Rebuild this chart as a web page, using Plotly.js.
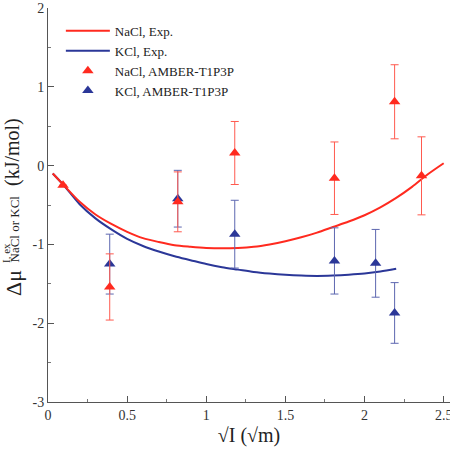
<!DOCTYPE html>
<html>
<head>
<meta charset="utf-8">
<script src="https://cdn.plot.ly/plotly-3.0.1.min.js"></script>
<style>
  html, body { margin: 0; padding: 0; background: #ffffff; }
  #chart { width: 450px; height: 452px; }
</style>
</head>
<body>
<div id="chart"></div>
<script>
// Experimental curves (sqrt of ionic strength vs excess chemical potential)
const naclExpX = [0.03, 0.1, 0.2, 0.3, 0.4, 0.5, 0.6, 0.7, 0.8, 0.9, 1.0, 1.1, 1.2, 1.3, 1.4, 1.5, 1.6, 1.7, 1.8, 1.9, 2.0, 2.1, 2.2, 2.3, 2.4, 2.5];
const naclExpY = [-0.10, -0.25, -0.46, -0.62, -0.74, -0.84, -0.92, -0.97, -1.01, -1.03, -1.045, -1.05, -1.045, -1.03, -1.00, -0.96, -0.91, -0.85, -0.78, -0.71, -0.63, -0.53, -0.41, -0.27, -0.11, 0.03];
const kclExpX = [0.03, 0.1, 0.2, 0.3, 0.4, 0.5, 0.6, 0.7, 0.8, 0.9, 1.0, 1.1, 1.2, 1.3, 1.4, 1.5, 1.6, 1.7, 1.8, 1.9, 2.0, 2.1, 2.2];
const kclExpY = [-0.10, -0.25, -0.49, -0.67, -0.81, -0.93, -1.02, -1.09, -1.15, -1.20, -1.25, -1.29, -1.32, -1.35, -1.37, -1.385, -1.395, -1.40, -1.395, -1.385, -1.37, -1.345, -1.31];

// Simulation results (AMBER-T1P3P) with error bars
const naclSimX = [0.095, 0.39, 0.82, 1.18, 1.81, 2.19, 2.36];
const naclSimY = [-0.25, -1.54, -0.46, 0.16, -0.16, 0.81, -0.13];
const naclSimErr = [0, 0.42, 0.38, 0.40, 0.46, 0.47, 0.495];
const kclSimX = [0.39, 0.82, 1.18, 1.81, 2.07, 2.19];
const kclSimY = [-1.25, -0.42, -0.87, -1.21, -1.24, -1.87];
const kclSimErr = [0.38, 0.36, 0.43, 0.42, 0.43, 0.385];

const xTicks = [0, 0.5, 1, 1.5, 2, 2.5];
const xTickText = ['0', '0.5', '1', '1.5', '2', '2.5'];
const yTicks = [-3, -2, -1, 0, 1, 2];
const yTickText = ['-3', '-2', '-1', '0', '1', '2'];

const RED = '#ff2a1f';
const BLUE = '#2b3798';
const SERIF = 'Liberation Serif';
const TEXT = '#222';

// plot-area box in pixels (used for the y-axis title pieces)
const M = { l: 48, r: 0, t: 8, b: 50 };
const PLOT_BOTTOM = 452 - M.b;

const traces = [
  {
    x: kclExpX, y: kclExpY, name: 'KCl, Exp.', type: 'scatter', mode: 'lines',
    line: { color: BLUE, width: 2, shape: 'spline', smoothing: 0.8 }, legendrank: 2
  },
  {
    x: naclExpX, y: naclExpY, name: 'NaCl, Exp.', type: 'scatter', mode: 'lines',
    line: { color: RED, width: 2, shape: 'spline', smoothing: 0.8 }, legendrank: 1
  },
  {
    x: kclSimX, y: kclSimY, name: 'KCl, AMBER-T1P3P', type: 'scatter', mode: 'markers',
    marker: { symbol: 'triangle-up', size: 10, color: BLUE },
    error_y: { type: 'data', array: kclSimErr, visible: true, color: '#5d67b0', thickness: 1, width: 4 },
    legendrank: 4
  },
  {
    x: naclSimX, y: naclSimY, name: 'NaCl, AMBER-T1P3P', type: 'scatter', mode: 'markers',
    marker: { symbol: 'triangle-up', size: 10, color: RED },
    error_y: { type: 'data', array: naclSimErr, visible: true, color: '#ff5a4f', thickness: 1, width: 4 },
    legendrank: 3
  }
];

function axisBase() {
  return {
    showgrid: false, zeroline: false, showline: true, mirror: false,
    linecolor: '#555', linewidth: 1,
    ticks: 'inside', ticklen: 6, tickcolor: '#555', tickwidth: 1,
    ticklabeloverflow: 'allow',
    tickfont: { family: SERIF, size: 14, color: '#333' }
  };
}

// y-axis title pieces, rotated, with the superscript stacked over the subscript
function yTitlePiece(text, size, px, py) {
  return {
    text: text, textangle: -90, showarrow: false,
    xref: 'paper', yref: 'paper', x: 0, y: 0,
    xshift: px - M.l, yshift: PLOT_BOTTOM - py,
    xanchor: 'center', yanchor: 'bottom',
    font: { family: SERIF, size: size, color: TEXT }, borderpad: 0
  };
}

const layout = {
  width: 450, height: 452,
  margin: M,
  font: { family: SERIF, color: TEXT },
  paper_bgcolor: '#ffffff', plot_bgcolor: '#ffffff',
  showlegend: true,
  legend: {
    x: 0.032, y: 0.98, xanchor: 'left', yanchor: 'top',
    bgcolor: 'rgba(0,0,0,0)', borderwidth: 0,
    font: { family: SERIF, size: 13, color: TEXT },
    itemwidth: 44, tracegroupgap: 0
  },
  xaxis: Object.assign(axisBase(), {
    range: [0, 2.54],
    tickvals: xTicks, ticktext: xTickText,
    minor: { dtick: 0.25, ticks: 'inside', ticklen: 3, tickcolor: '#777' },
    title: { text: '√I (√m)', font: { family: SERIF, size: 20, color: TEXT }, standoff: 6 }
  }),
  yaxis: Object.assign(axisBase(), {
    range: [-3, 2],
    tickvals: yTicks, ticktext: yTickText,
    minor: { dtick: 0.5, ticks: 'inside', ticklen: 3, tickcolor: '#777' }
  }),
  annotations: [
    yTitlePiece('Δμ', 22, 13, 297),
    yTitlePiece('I, ex', 11, 6, 264),
    yTitlePiece('NaCl or KCl', 13, 14, 264),
    yTitlePiece('(kJ/mol)', 20, 12, 187)
  ]
};

Plotly.newPlot('chart', traces, layout, { displayModeBar: false, staticPlot: true });
</script>
</body>
</html>
